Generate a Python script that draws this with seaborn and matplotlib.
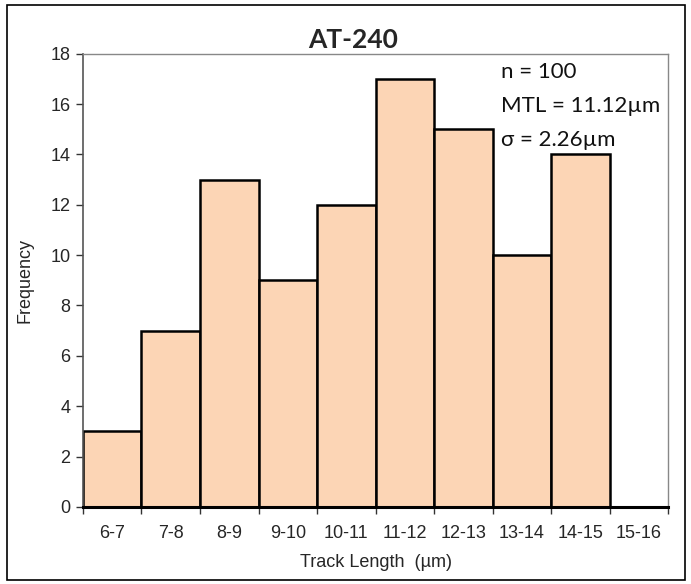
import numpy as np
import pandas as pd
import seaborn as sns
import matplotlib.pyplot as plt
from matplotlib.patches import Rectangle

sns.set_theme(style="white")
plt.rcParams['font.family'] = ['Liberation Sans Narrow', 'Liberation Sans', 'DejaVu Sans']

# data
bins = ['6-7', '7-8', '8-9', '9-10', '10-11', '11-12', '12-13', '13-14', '14-15', '15-16']
freq = [3, 7, 13, 9, 12, 17, 15, 10, 14, 0]
stats = ['n = 100', 'MTL = 11.12\u00b5m', '\u03c3 = 2.26\u00b5m']
title = 'AT-240'

df = pd.DataFrame({'bin': bins, 'freq': freq})

fig = plt.figure(figsize=(6.91, 5.84), dpi=100)
ax = fig.add_axes([0.120, 0.132, 0.847, 0.776])

sns.barplot(data=df, x='bin', y='freq', ax=ax, color='#FCD5B5', saturation=1,
            width=1.0, edgecolor='black', linewidth=1.8)

ax.set_xlim(-0.5, len(bins) - 0.5)
ax.set_ylim(0, 18)
ax.set_yticks(np.arange(0, 19, 2))

# ticks at bin boundaries, labels centred
ax.set_xticks(np.arange(len(bins)))
ax.set_xticklabels(bins)
ax.set_xticks(np.arange(len(bins) + 1) - 0.5, minor=True)
ax.tick_params(axis='x', which='major', length=0, pad=13, labelsize=13)
ax.tick_params(axis='x', which='minor', length=5, width=1, color='#333333', direction='out')
ax.tick_params(axis='y', length=5, width=1, color='#333333', direction='out', labelsize=13, pad=4)
ax.tick_params(bottom=True, left=True, which='both')

for s in ['top', 'right']:
    ax.spines[s].set_color('#888888')
    ax.spines[s].set_linewidth(1)
ax.spines['left'].set_color('#555555')
ax.spines['left'].set_linewidth(1.2)
ax.spines['bottom'].set_color('black')
ax.spines['bottom'].set_linewidth(2.2)

ax.set_xlabel('Track Length  (\u00b5m)', fontsize=13, labelpad=9)
ax.set_ylabel('Frequency', fontsize=13, labelpad=12)
ax.set_title(title, fontsize=19, fontweight='bold', family=['Lato', 'DejaVu Sans'],
             x=0.462, pad=4)

for i, t in enumerate(stats):
    ax.text(0.715, 0.96 - i * 0.075, t, transform=ax.transAxes, fontsize=16,
            family=['Lato', 'DejaVu Sans'], va='center', ha='left', color='#111111')

# outer frame around the figure
fig.patches.append(Rectangle((0.010, 0.007), 0.981, 0.984, transform=fig.transFigure,
                             fill=False, edgecolor='black', linewidth=1.2))

fig.savefig('out.png', dpi=100)
